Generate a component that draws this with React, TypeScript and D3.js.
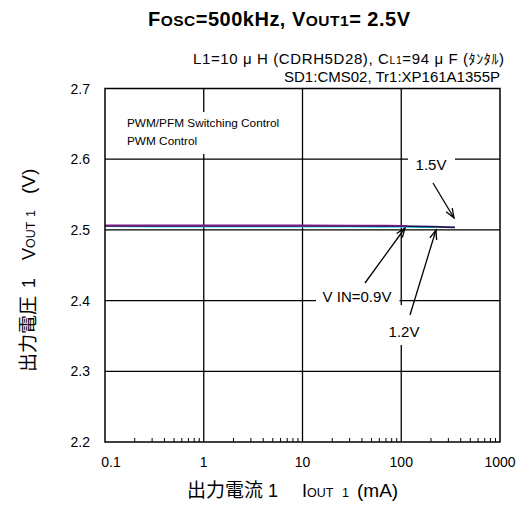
import React from "react";
import * as d3 from "d3";

const xTicks = [0.1, 1, 10, 100, 1000];
const xTickLabels = ["0.1", "1", "10", "100", "1000"];
const yTicks = [2.2, 2.3, 2.4, 2.5, 2.6, 2.7];
const yTickLabels = ["2.2", "2.3", "2.4", "2.5", "2.6", "2.7"];

// Output current (mA) and output voltage (V) per input voltage
const iout09 = [0.1, 0.3, 1, 3, 10, 30, 60, 100, 115];
const vout09 = [2.5062, 2.5062, 2.5062, 2.5062, 2.5062, 2.506, 2.506, 2.5058, 2.5052];
const iout12 = [0.1, 0.3, 1, 3, 10, 30, 100, 160, 220];
const vout12 = [2.5052, 2.5048, 2.5045, 2.5045, 2.5045, 2.5045, 2.5043, 2.5041, 2.504];
const iout15 = [0.1, 0.3, 1, 3, 10, 30, 100, 200, 350];
const vout15 = [2.5058, 2.5058, 2.5058, 2.5058, 2.5057, 2.5056, 2.5053, 2.5045, 2.5035];

const seriesList = [
  { name: "1.2V", x: iout12, y: vout12, color: "#18e4ec" },
  { name: "1.5V", x: iout15, y: vout15, color: "#14144e" },
  { name: "0.9V", x: iout09, y: vout09, color: "#7a1a80" },
];

const FONT = "'Liberation Sans', Arial, sans-serif";
const JFONT = "'Noto Sans CJK JP', 'Liberation Sans', sans-serif";

export default function App() {
  const W = 524, H = 512;
  const L = 105, R = 500, T = 88.5, B = 442;
  const x = d3.scaleLog().domain([0.1, 1000]).range([L, R]);
  const y = d3.scaleLinear().domain([2.2, 2.7]).range([B, T]);
  const line = d3.line<[number, number]>().x(d => x(d[0])).y(d => y(d[1])).curve(d3.curveMonotoneX);

  const minor: number[] = [];
  for (let d = 0.1; d < 1000; d *= 10) for (let k = 2; k <= 9; k++) minor.push(d * k);

  const arrow = (x1: number, y1: number, x2: number, y2: number) => {
    const a = Math.atan2(y2 - y1, x2 - x1);
    const len = 10, sp = 0.36;
    const p1 = [x2 - len * Math.cos(a - sp), y2 - len * Math.sin(a - sp)];
    const p2 = [x2 - len * Math.cos(a + sp), y2 - len * Math.sin(a + sp)];
    return (
      <g stroke="#000" strokeWidth={1.3} fill="none">
        <line x1={x1} y1={y1} x2={x2} y2={y2} />
        <polyline points={`${p1[0]},${p1[1]} ${x2},${y2} ${p2[0]},${p2[1]}`} />
      </g>
    );
  };

  return (
    <svg width={W} height={H} style={{ position: "absolute", left: 0, top: 0, background: "#fff" }}>
      <rect x={0} y={0} width={W} height={H} fill="#fff" />
      {/* title */}
      <text x={148} y={26} fontFamily={FONT} fontWeight="bold" fontSize={20} textLength={262} lengthAdjust="spacing">
        F<tspan fontSize={15.5}>OSC</tspan>=500kHz, V<tspan fontSize={15.5}>OUT1</tspan>= 2.5V
      </text>
      <text x={193} y={64} fontFamily={FONT} fontSize={15} textLength={311} lengthAdjust="spacing">
        L1=10 μ H (CDRH5D28), C<tspan fontSize={10.5}>L1</tspan>=94 μ F (<tspan fontFamily={JFONT} fontSize={14}>ﾀﾝﾀﾙ</tspan>)
      </text>
      <text x={500} y={82} textAnchor="end" fontFamily={FONT} fontSize={15}>
        SD1:CMS02, Tr1:XP161A1355P
      </text>

      {/* grid */}
      <g stroke="#000" strokeWidth={1.3}>
        {xTicks.slice(1, -1).map(t => (
          <line key={"gx" + t} x1={x(t)} x2={x(t)} y1={T} y2={B} />
        ))}
        {yTicks.slice(1, -1).map(t => (
          <line key={"gy" + t} x1={L} x2={R} y1={y(t)} y2={y(t)} />
        ))}
        {minor.map(t => (
          <line key={"m" + t} x1={x(t)} x2={x(t)} y1={B} y2={B - 4} strokeWidth={1} />
        ))}
      </g>

      {/* label backgrounds */}
      <rect x={118} y={112} width={172} height={42} fill="#fff" />
      <rect x={408} y={150} width={47} height={26} fill="#fff" />
      <rect x={316} y={288} width={83.5} height={24} fill="#fff" />
      <rect x={386} y={305} width={38} height={40} fill="#fff" />

      {/* series */}
      {seriesList.map(s => (
        <path key={s.name} d={line(s.x.map((v, i) => [v, s.y[i]] as [number, number])) || ""}
          fill="none" stroke={s.color} strokeWidth={1.8} />
      ))}

      {/* frame */}
      <rect x={L} y={T} width={R - L} height={B - T} fill="none" stroke="#000" strokeWidth={1.5} />

      {/* annotations */}
      <text x={127} y={127} fontFamily={FONT} fontSize={11.8}>PWM/PFM Switching Control</text>
      <text x={127} y={145} fontFamily={FONT} fontSize={11.8}>PWM  Control</text>
      <text x={431} y={170} textAnchor="middle" fontFamily={FONT} fontSize={15}>1.5V</text>
      <text x={357} y={302} textAnchor="middle" fontFamily={FONT} fontSize={15}>V IN=0.9V</text>
      <text x={404} y={337} textAnchor="middle" fontFamily={FONT} fontSize={15}>1.2V</text>
      {arrow(433, 183, 454, 218)}
      {arrow(365, 283, 405, 228)}
      {arrow(410, 315, 436, 230)}

      {/* tick labels */}
      {yTicks.map((t, i) => (
        <text key={"yl" + t} x={90} y={y(t) + 5} textAnchor="end" fontFamily={FONT} fontSize={14}>{yTickLabels[i]}</text>
      ))}
      {xTicks.map((t, i) => (
        <text key={"xl" + t} x={x(t) + (i === 0 ? 6 : 0)} y={467} textAnchor="middle" fontFamily={FONT} fontSize={14}>{xTickLabels[i]}</text>
      ))}

      {/* axis titles */}
      <g transform="translate(187,497)">
        <text x={0} fontFamily={JFONT} fontSize={19}>出力電流</text>
        <text x={81} fontFamily={FONT} fontSize={18}>1</text>
        <text x={115} fontFamily={FONT} fontSize={18}>I<tspan fontSize={12.5}>OUT</tspan></text>
        <text x={155} fontFamily={FONT} fontSize={12.5}>1</text>
        <text x={170} fontFamily={FONT} fontSize={19}>(mA)</text>
      </g>
      <g transform="translate(35,372) rotate(-90)">
        <text x={0} fontFamily={JFONT} fontSize={19}>出力電圧</text>
        <text x={84} fontFamily={FONT} fontSize={18}>1</text>
        <text x={112} fontFamily={FONT} fontSize={18}>V<tspan fontSize={12.5}>OUT</tspan></text>
        <text x={155} fontFamily={FONT} fontSize={12.5}>1</text>
        <text x={178} fontFamily={FONT} fontSize={19}>(V)</text>
      </g>
    </svg>
  );
}
